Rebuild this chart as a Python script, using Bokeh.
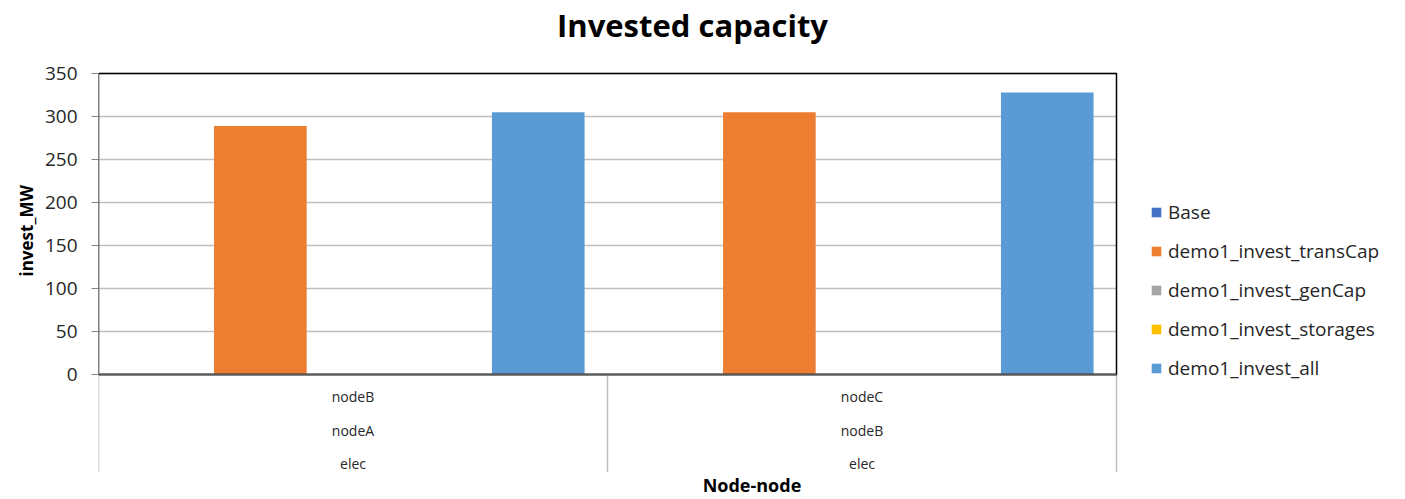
from bokeh.plotting import figure
from bokeh.models import (Range1d, FixedTicker, Legend, LegendItem, ColumnDataSource, Label,
                          Title)
from bokeh.core.properties import value
from bokeh.embed import file_html
from bokeh.resources import INLINE

# ---- data ----
inner_labels = ["nodeB", "nodeC"]
middle_labels = ["nodeA", "nodeB"]
outer_labels = ["elec", "elec"]
series_names = ["Base", "demo1_invest_transCap", "demo1_invest_genCap",
                "demo1_invest_storages", "demo1_invest_all"]
base = [0, 0]
invest_transcap = [289, 305]
invest_gencap = [0, 0]
invest_storages = [0, 0]
invest_all = [305, 328]
y_ticks = [0, 50, 100, 150, 200, 250, 300, 350]
chart_title = "Invested capacity"
y_title = "invest_MW"
x_title = "Node-node"

series_values = [base, invest_transcap, invest_gencap, invest_storages, invest_all]
colors = ["#4472C4", "#ED7D31", "#A5A5A5", "#FFC000", "#5B9BD5"]

FONT = "Open Sans"

# ---- geometry (pixels) ----
W, H = 1405, 499
frame_left = 98
group_px = 509         # width of one category group
plot_top_px = 73       # where the value 350 sits
zero_px = 374          # where the value 0 sits
frame_bottom_px = 472  # bottom of the category band (x-axis title below)
y_max = 350
px_per_unit = (zero_px - plot_top_px) / y_max
y_min = -(frame_bottom_px - zero_px) / px_per_unit
y_top = y_max + plot_top_px / px_per_unit   # frame reaches the top edge (title lives there)

n_groups = len(inner_labels)
x_max = (W - frame_left) / group_px   # frame runs to the right edge (legend lives there)
slot = 0.182
bar_w = 0.182

p = figure(width=W, height=H, output_backend="svg", toolbar_location=None,
           x_range=Range1d(0, x_max), y_range=Range1d(y_min, y_top),
           min_border_left=frame_left, min_border_right=0,
           min_border_top=0, min_border_bottom=0)
p.title.visible = False

p.outline_line_color = None
p.background_fill_color = "white"
p.border_fill_color = "white"
p.xgrid.grid_line_color = None
p.ygrid.grid_line_color = None

# horizontal gridlines inside the plot area only
p.segment(x0=[0] * len(y_ticks), y0=y_ticks, x1=[n_groups] * len(y_ticks), y1=y_ticks,
          line_color="#C0C0C0", line_width=1.5)

# bars
renderers = []
for k, (name, vals, col) in enumerate(zip(series_names, series_values, colors)):
    xs = [g + 0.5 + (k - 2) * slot for g in range(n_groups)]
    src = ColumnDataSource(dict(x=xs, top=vals))
    r = p.vbar(x="x", top="top", bottom=0, width=bar_w, source=src,
               fill_color=col, line_color=None)
    renderers.append(r)

# category separators
sep_x = list(range(n_groups + 1))
p.segment(x0=sep_x, y0=[0] * len(sep_x), x1=sep_x, y1=[y_min] * len(sep_x),
          line_color="#BFBFBF", line_width=1.5)

# plot-area box
p.quad(left=[0], right=[n_groups], bottom=[0], top=[y_max],
       fill_color=None, line_color="#000000", line_width=1.5)
# zero axis line
p.segment(x0=[0], y0=[0], x1=[n_groups], y1=[0], line_color="#595959", line_width=2)

# category labels (three rows)
row_px = [22, 56, 89]
centers = [g + 0.5 for g in range(n_groups)]
for labels, rp in zip([inner_labels, middle_labels, outer_labels], row_px):
    p.text(x=centers, y=[-rp / px_per_unit] * n_groups, text=labels,
           text_align="center", text_baseline="middle",
           text_font=value(FONT), text_font_size="14px", text_color="#262626")

# y axis (its title is a side title so it can be centred on the value area)
p.yaxis.ticker = FixedTicker(ticks=y_ticks)
p.yaxis.bounds = (0, y_max)
p.yaxis.axis_line_color = None
p.yaxis.major_tick_out = 7
p.yaxis.major_tick_in = 0
p.yaxis.major_tick_line_color = "#868686"
p.yaxis.minor_tick_line_color = None
p.yaxis.major_label_standoff = 14
p.yaxis.major_label_text_font = FONT
p.yaxis.major_label_text_font_size = "19px"
p.yaxis.major_label_text_color = "#262626"

y_title_start_px = 276   # lower end of the rotated y-axis title
p.add_layout(Title(text=y_title, align="left", offset=frame_bottom_px - y_title_start_px,
                   standoff=8, text_font=FONT, text_font_size="17px",
                   text_font_style="bold", text_color="#000000"), "left")

# x axis: only its title, centred under the category groups
p.xaxis.ticker = FixedTicker(ticks=[])
p.xaxis.bounds = (0, n_groups)
p.xaxis.axis_line_color = None
p.xaxis.major_tick_line_color = None
p.xaxis.major_tick_out = 0
p.xaxis.major_tick_in = 0
p.xaxis.minor_tick_line_color = None
p.xaxis.major_label_text_font_size = "0px"
p.xaxis.major_label_standoff = 0
p.xaxis.axis_label = x_title
p.xaxis.axis_label_text_font = FONT
p.xaxis.axis_label_text_font_size = "18px"
p.xaxis.axis_label_text_font_style = "bold"
p.xaxis.axis_label_text_color = "#000000"
p.xaxis.axis_label_standoff = 0

# chart title (centred over the whole chart, as in the original)
title_center_px = 692
title_baseline_px = 24
p.add_layout(Label(x=(title_center_px - frame_left) / group_px,
                   y=(zero_px - title_baseline_px) / px_per_unit,
                   text=chart_title, text_align="center", text_baseline="alphabetic",
                   text_font=FONT, text_font_size="31px", text_font_style="bold",
                   text_color="#000000"))

# legend (right of the plot area)
legend = Legend(items=[LegendItem(label=n, renderers=[r]) for n, r in zip(series_names, renderers)],
                location=(1052, 91), orientation="vertical",
                label_text_font=FONT, label_text_font_size="19px", label_text_color="#262626",
                glyph_width=12, glyph_height=12, label_standoff=6,
                spacing=13, label_height=20, padding=0, margin=0,
                border_line_color=None, background_fill_alpha=0)
p.add_layout(legend, "center")

open("out.html", "w").write(file_html(p, INLINE))
